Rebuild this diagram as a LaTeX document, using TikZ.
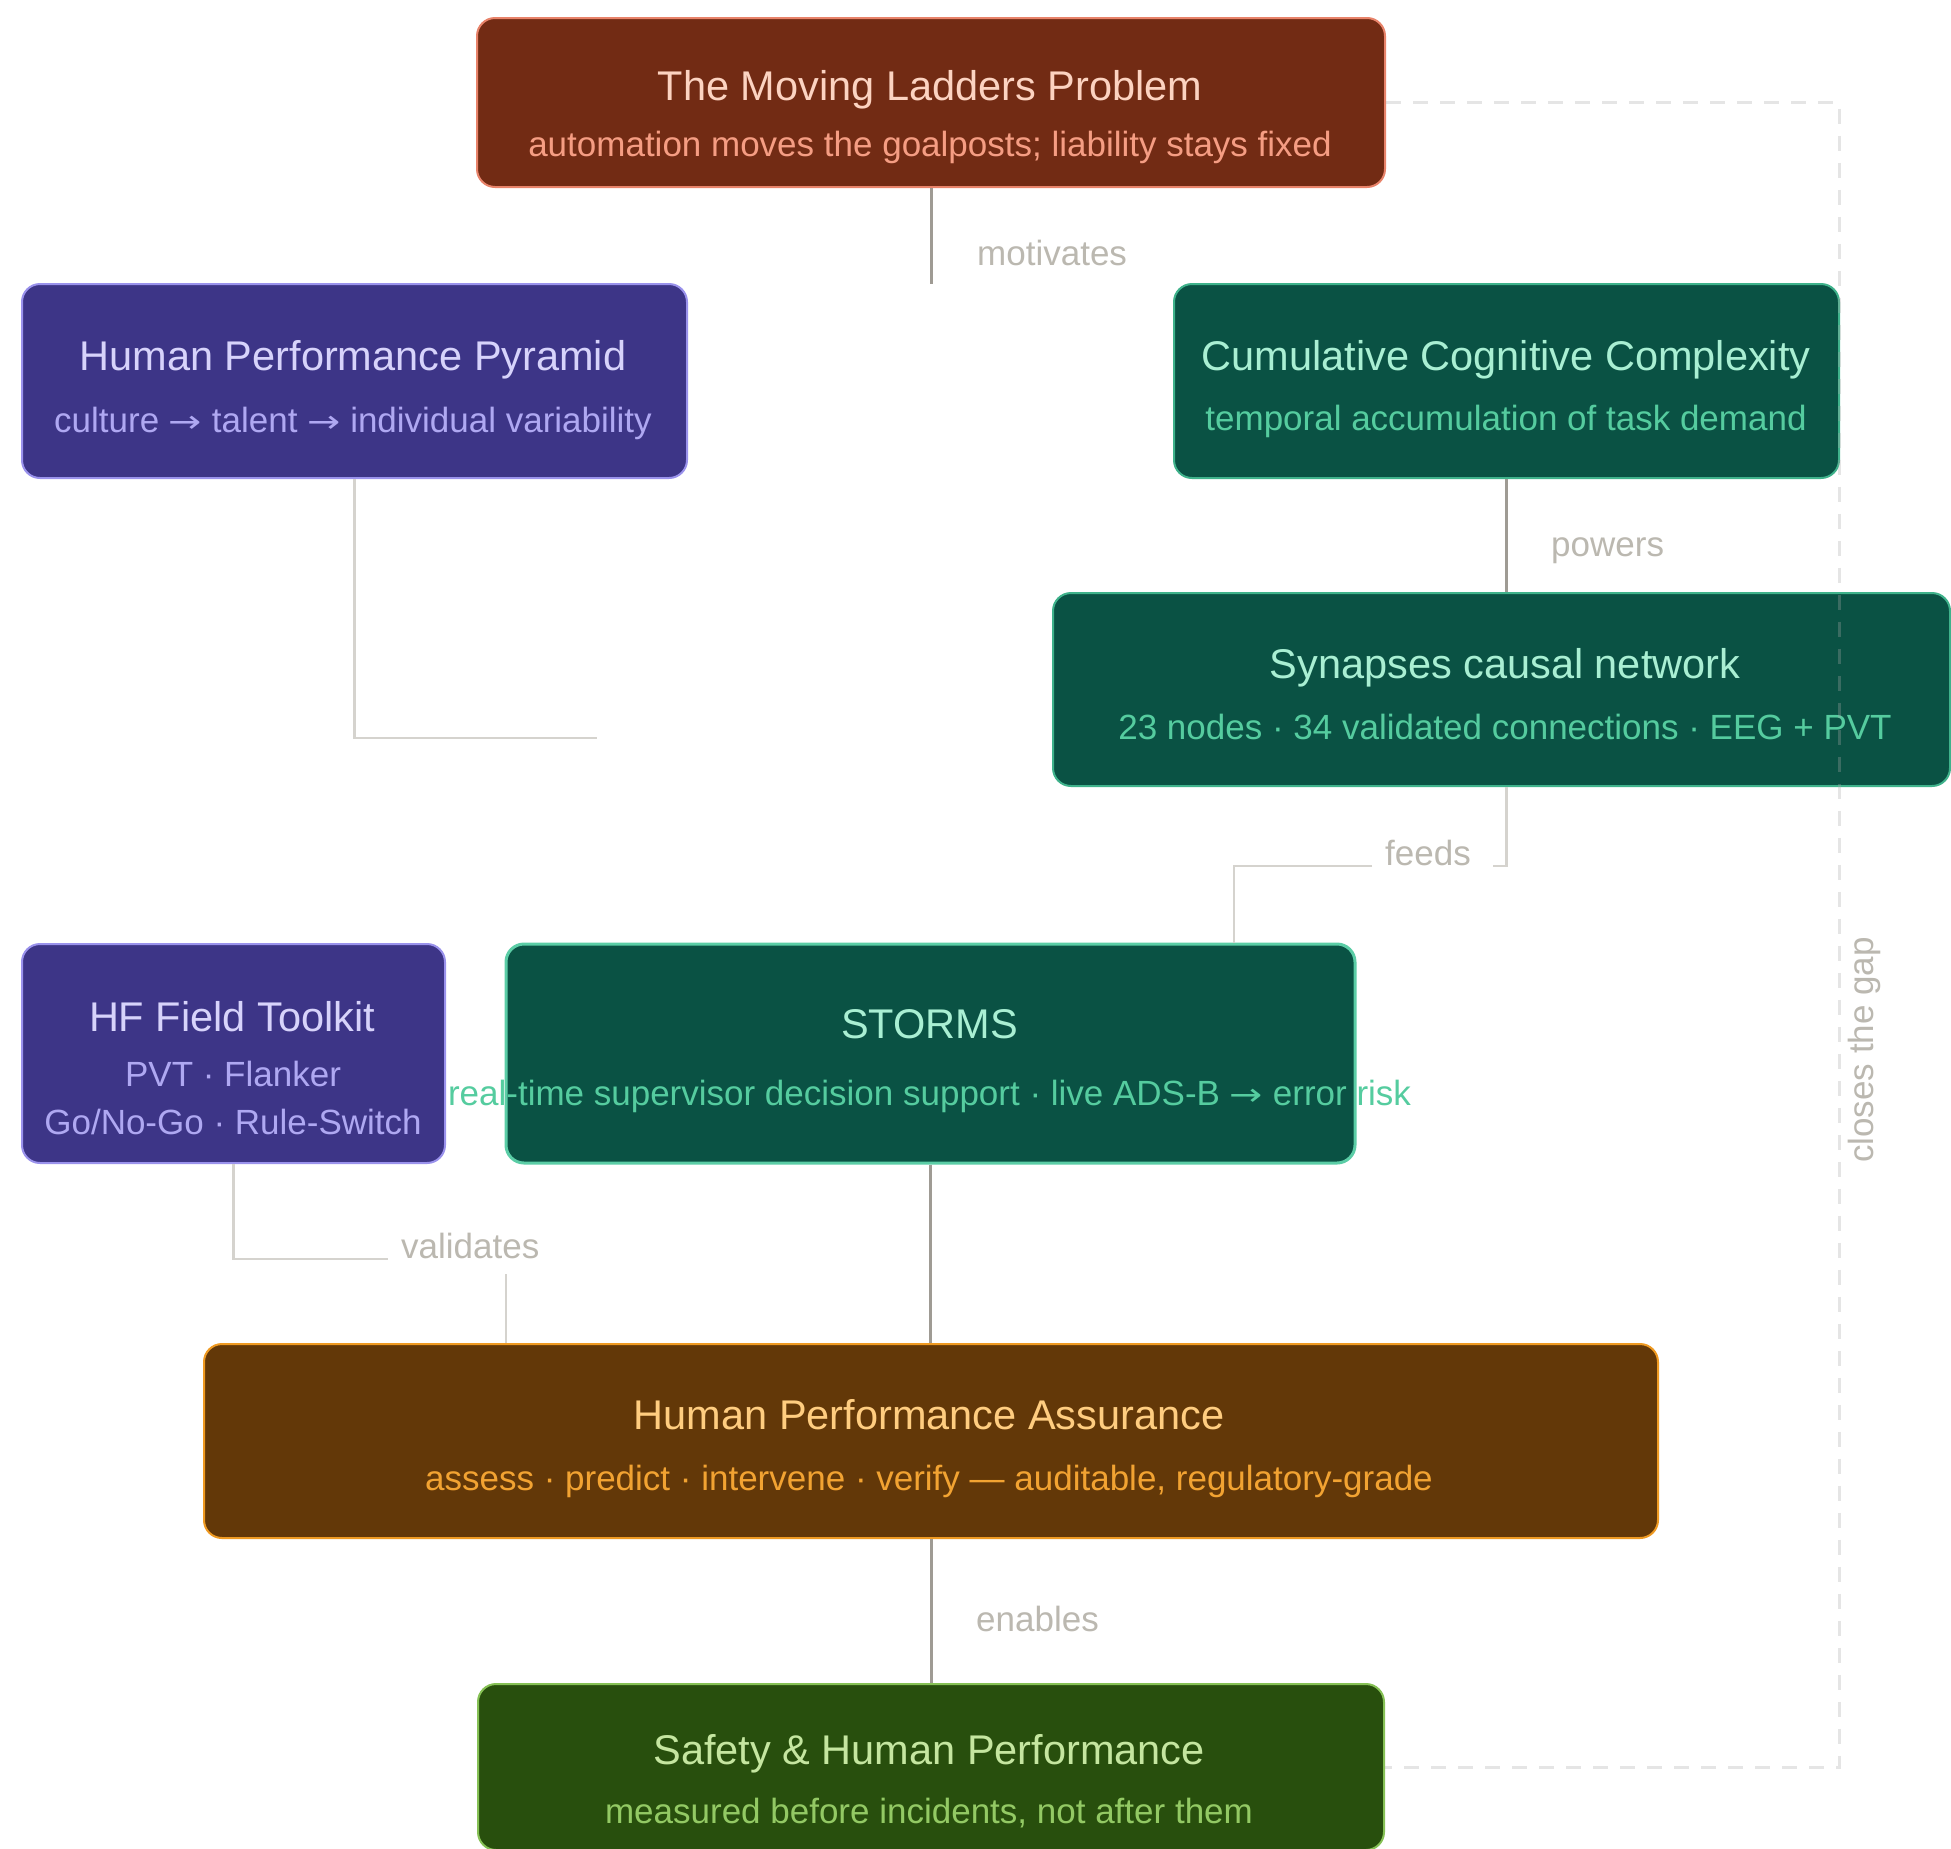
\documentclass[tikz,border=0pt]{standalone}
\usepackage{fontspec}
\setmainfont{Liberation Sans}
\newfontfamily\arrowfont{DejaVu Sans}
\newcommand{\rarr}{\scalebox{1.28}[1]{\arrowfont\fontsize{31}{40}\selectfont →}}
\definecolor{ladfill}{HTML}{722B14}
\definecolor{laddraw}{HTML}{E8836A}
\definecolor{ladttl}{HTML}{FCD3C1}
\definecolor{ladsub}{HTML}{F59D83}
\definecolor{purfill}{HTML}{3D3587}
\definecolor{purdraw}{HTML}{9A92EC}
\definecolor{purttl}{HTML}{D7D3FB}
\definecolor{pursub}{HTML}{AFA8F2}
\definecolor{grnfill}{HTML}{0A5244}
\definecolor{grndraw}{HTML}{3FB28B}
\definecolor{grnttl}{HTML}{A9EFD3}
\definecolor{grnsub}{HTML}{55CC9F}
\definecolor{stdraw}{HTML}{5BCDA6}
\definecolor{orfill}{HTML}{633808}
\definecolor{ordraw}{HTML}{EF9A22}
\definecolor{orttl}{HTML}{FFCD80}
\definecolor{orsub}{HTML}{F2A332}
\definecolor{sgfill}{HTML}{284F0D}
\definecolor{sgdraw}{HTML}{86C155}
\definecolor{sgttl}{HTML}{C5E6A0}
\definecolor{sgsub}{HTML}{93C964}
\definecolor{edgedark}{HTML}{9F9B94}
\definecolor{edgelight}{HTML}{D5D3CE}
\definecolor{lbl}{HTML}{BBB8B0}
\definecolor{dashc}{HTML}{AAAAAA}
\begin{document}
\begin{tikzpicture}[x=1pt,y=-1pt,
  box/.style={draw, rounded corners=18pt, line width=2pt, inner sep=0pt},
  ttl/.style={font=\fontsize{41.5}{48}\selectfont, anchor=base, inner sep=0pt},
  sub/.style={font=\fontsize{35}{42}\selectfont, anchor=base, inner sep=0pt},
  elab/.style={font=\fontsize{35}{42}\selectfont, anchor=base west, inner sep=0pt, text=lbl},
  darkedge/.style={draw=edgedark, line width=3pt},
  lightedge/.style={draw=edgelight, line width=2.5pt},
  gapedge/.style={draw=dashc, line width=3pt, dash pattern=on 15pt off 12pt, opacity=0.3},
]
\useasboundingbox (0,0) rectangle (1951,1848);
\fill[white] (0,0) rectangle (1951,1848);

% boxes
\node[box, fill=ladfill, draw=laddraw, minimum width=908pt, minimum height=169pt] (ladders) at (931,102.5) {};
\node[box, fill=purfill, draw=purdraw, minimum width=665pt, minimum height=194pt] (pyramid) at (354.5,381) {};
\node[box, fill=grnfill, draw=grndraw, minimum width=665pt, minimum height=194pt] (cumul) at (1506.5,381) {};
\node[box, fill=grnfill, draw=grndraw, minimum width=897pt, minimum height=193pt] (synap) at (1501.5,689.5) {};
\node[box, fill=purfill, draw=purdraw, minimum width=423pt, minimum height=219pt] (hftool) at (233.5,1053.5) {};
\node[box, fill=grnfill, draw=stdraw, line width=3pt, minimum width=849pt, minimum height=219pt] (storms) at (930.5,1053.5) {};
\node[box, fill=orfill, draw=ordraw, minimum width=1454pt, minimum height=194pt] (hpa) at (931,1441) {};
\node[box, fill=sgfill, draw=sgdraw, minimum width=906pt, minimum height=166pt] (safety) at (931,1767) {};

% texts
\node[ttl, text=ladttl] (t1) at (930,100) {The Moving Ladders Problem};
\node[sub, text=ladsub] (s1) at (930,156) {automation moves the goalposts; liability stays fixed};
\node[ttl, text=purttl] (t2) at (353,370) {Human Performance Pyramid};
\node[sub, text=pursub] (s2) at (353,432) {culture \rarr{} talent \rarr{} individual variability};
\node[ttl, text=grnttl] (t3) at (1506,370) {Cumulative Cognitive Complexity};
\node[sub, text=grnsub] (s3) at (1506,430) {temporal accumulation of task demand};
\node[ttl, text=grnttl] (t4) at (1505,678) {Synapses causal network};
\node[sub, text=grnsub] (s4) at (1505,739) {23 nodes · 34 validated connections · EEG + PVT};
\node[ttl, text=purttl] (t5) at (232,1031) {HF Field Toolkit};
\node[sub, text=pursub] (s5a) at (233,1086) {PVT · Flanker};
\node[sub, text=pursub] (s5b) at (233,1134) {Go/No-Go · Rule-Switch};
\node[ttl, text=grnttl] (t6) at (929.5,1038) {STORMS};
\node[sub, text=grnsub] (s6) at (929.5,1105) {real-time supervisor decision support · live ADS-B \rarr{} error risk};
\node[ttl, text=orttl] (t7) at (929,1429) {Human Performance Assurance};
\node[sub, text=orsub] (s7) at (929,1490) {assess · predict · intervene · verify — auditable, regulatory-grade};
\node[ttl, text=sgttl] (t8) at (929,1764) {Safety \& Human Performance};
\node[sub, text=sgsub] (s8) at (929,1823) {measured before incidents, not after them};

% connectors
\coordinate (motend) at (931,284);
\draw[darkedge] (ladders.south) -- (motend);
\node[elab] (lmot) at (977,265) {motivates};

\coordinate (pyrend) at (597,738);
\draw[lightedge] (pyramid.south) |- (pyrend);

\draw[darkedge] (cumul.south) -- (cumul.south |- synap.north);
\node[elab] (lpow) at (1551,556) {powers};

\coordinate (fd1) at (1493,866);
\coordinate (fd2) at (1372,866);
\coordinate (fdx) at (1234,0);
\draw[lightedge] (cumul.south |- synap.south) |- (fd1);
\draw[lightedge] (fd2) -| (storms.north -| fdx);
\node[elab] (lfeed) at (1385,865) {feeds};

\coordinate (va1) at (388,1259);
\coordinate (va2) at (506,1274);
\draw[lightedge] (hftool.south) |- (va1);
\draw[lightedge] (va2) -- (va2 |- hpa.north);
\node[elab] (lval) at (401,1258) {validates};

\draw[darkedge] (storms.south) -- (storms.south |- hpa.north);

\draw[darkedge] (hpa.south) -- (safety.north);
\node[elab] (lena) at (976,1631) {enables};

\coordinate (gx) at (1839,0);
\draw[gapedge] (ladders.east) -| (gx |- safety.east) -- (safety.east);
\node[font=\fontsize{35}{42}\selectfont, text=lbl, rotate=90, inner sep=0pt] (lgap) at (1864,1050) {closes the gap};
\end{tikzpicture}
\end{document}
